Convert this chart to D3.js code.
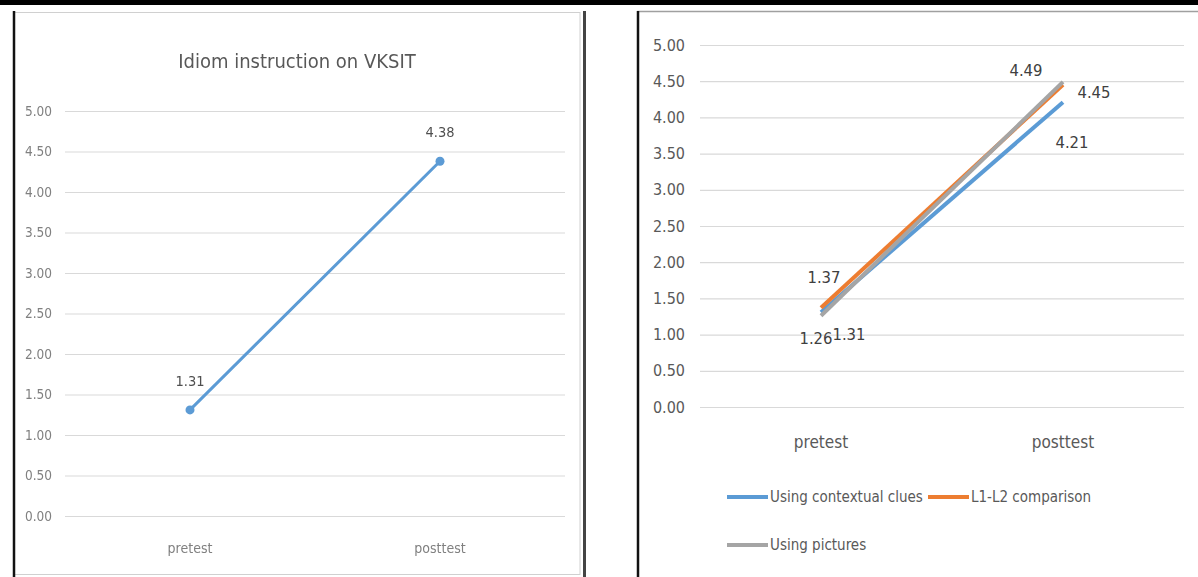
<!DOCTYPE html>
<html>
<head>
<meta charset="utf-8">
<script src="https://cdn.jsdelivr.net/npm/d3@7"></script>
<style>
  html, body { margin: 0; padding: 0; background: #fff; }
  svg { display: block; }
  text { font-family: "DejaVu Sans Condensed", "DejaVu Sans", sans-serif; font-stretch: condensed; }
</style>
</head>
<body>
<svg id="chart" width="1198" height="577"></svg>
<script>
// Categories and tick values shared by both charts
const categories = ["pretest", "posttest"];
const yTicks = [0, 0.5, 1, 1.5, 2, 2.5, 3, 3.5, 4, 4.5, 5];

// Left chart: overall idiom instruction scores
const overallTitle = "Idiom instruction on VKSIT";
const overallValues = [1.31, 4.38];

// Right chart: scores by instruction technique
const seriesNames = ["Using contextual clues", "L1-L2 comparison", "Using pictures"];
const contextualValues = [1.31, 4.21];
const comparisonValues = [1.37, 4.45];
const picturesValues = [1.26, 4.49];

const seriesColors = ["#5B9BD5", "#ED7D31", "#A5A5A5"];
// label offsets (dx, dy) for each series at each category
const labelOffsets = [
  [[28, 22], [9, 40]],
  [[3, -31], [31, 7]],
  [[-5, 22], [-37, -12]]
];

const svg = d3.select("#chart");
const fmt = d3.format(".2f");
const condensed = '"DejaVu Sans Condensed", "DejaVu Sans", sans-serif';

const defs = svg.append("defs");
defs.append("filter").attr("id", "soft").attr("x", "-5%").attr("y", "-5%").attr("width", "110%").attr("height", "110%")
  .append("feGaussianBlur").attr("stdDeviation", 0.7);

// ---------- Left panel ----------
const left = svg.append("g");

// frame
left.append("rect").attr("x", 14).attr("y", 12.5).attr("width", 566).attr("height", 562)
  .attr("fill", "#fff").attr("stroke", "#d0d0d0").attr("stroke-width", 1);
left.append("line").attr("x1", 14).attr("x2", 14).attr("y1", 11).attr("y2", 577).attr("stroke", "#111").attr("stroke-width", 2.5);
left.append("line").attr("x1", 584.5).attr("x2", 584.5).attr("y1", 11).attr("y2", 577).attr("stroke", "#444").attr("stroke-width", 3);

const lp = left.append("g").attr("filter", "url(#soft)");
const xL = d3.scalePoint().domain(categories).range([65, 565]).padding(0.5);
const yL = d3.scaleLinear().domain([0, 5]).range([516, 111]);

lp.append("text").attr("x", 297).attr("y", 68).attr("text-anchor", "middle")
  .attr("font-size", 20).attr("fill", "#595959").text(overallTitle);

const axL = lp.append("g").attr("transform", "translate(65,0)")
  .call(d3.axisLeft(yL).tickValues(yTicks).tickFormat(fmt).tickSize(-500).tickPadding(13));
axL.select(".domain").remove();
axL.selectAll(".tick line").attr("stroke", "#d9d9d9").attr("stroke-width", 1.2);
axL.selectAll(".tick text").attr("fill", "#808080").attr("font-size", 13.5)
  .style("font-family", condensed);

lp.selectAll(".cat").data(categories).join("text")
  .attr("x", d => xL(d)).attr("y", 553).attr("text-anchor", "middle")
  .attr("font-size", 14).attr("fill", "#808080").text(d => d);

lp.append("path").datum(overallValues)
  .attr("d", d3.line().x((d, i) => xL(categories[i])).y(d => yL(d)))
  .attr("fill", "none").attr("stroke", "#5B9BD5").attr("stroke-width", 3);
lp.selectAll(".pt").data(overallValues).join("circle")
  .attr("cx", (d, i) => xL(categories[i])).attr("cy", d => yL(d)).attr("r", 4.5)
  .attr("fill", "#5B9BD5");
lp.selectAll(".lbl").data(overallValues).join("text")
  .attr("x", (d, i) => xL(categories[i])).attr("y", d => yL(d) - 29)
  .attr("dy", "0.35em").attr("text-anchor", "middle").attr("font-size", 14.5).attr("fill", "#505050")
  .text(d => fmt(d));

// ---------- Right panel ----------
const right = svg.append("g");
right.append("rect").attr("x", 638).attr("y", 11.5).attr("width", 600).attr("height", 600)
  .attr("fill", "#fff").attr("stroke", "#a0a0a0").attr("stroke-width", 1.5);
right.append("line").attr("x1", 638).attr("x2", 638).attr("y1", 11).attr("y2", 577).attr("stroke", "#111").attr("stroke-width", 2.5);

const xR = d3.scalePoint().domain(categories).range([700, 1184]).padding(0.5);
const yR = d3.scaleLinear().domain([0, 5]).range([407, 45]);

const axR = right.append("g").attr("transform", "translate(700,0)")
  .call(d3.axisLeft(yR).tickValues(yTicks).tickFormat(fmt).tickSize(-484).tickPadding(15));
axR.select(".domain").remove();
axR.selectAll(".tick line").attr("stroke", "#d9d9d9").attr("stroke-width", 1.2);
axR.selectAll(".tick text").attr("fill", "#595959").attr("font-size", 16)
  .style("font-family", condensed);

right.selectAll(".cat").data(categories).join("text")
  .attr("x", d => xR(d)).attr("y", 448).attr("text-anchor", "middle")
  .attr("font-size", 17).attr("fill", "#595959").text(d => d);

const seriesValues = [contextualValues, comparisonValues, picturesValues];
const lineR = d3.line().x((d, i) => xR(categories[i])).y(d => yR(d));
right.selectAll(".series").data(seriesValues).join("path")
  .attr("d", d => lineR(d)).attr("fill", "none")
  .attr("stroke", (d, i) => seriesColors[i]).attr("stroke-width", 4);

seriesValues.forEach((vals, s) => {
  right.selectAll(".lbl" + s).data(vals).join("text")
    .attr("x", (d, i) => xR(categories[i]) + labelOffsets[s][i][0])
    .attr("y", (d, i) => yR(d) + labelOffsets[s][i][1])
    .attr("dy", "0.35em").attr("text-anchor", "middle")
    .attr("font-size", 16.5).attr("fill", "#404040").text(d => fmt(d));
});

// Rule across the top of the page
svg.append("rect").attr("x", 0).attr("y", 0).attr("width", 1198).attr("height", 5).attr("fill", "#000");

// legend
const legendPos = [[727, 497], [928, 497], [727, 545]];
const legend = right.selectAll(".leg").data(seriesNames).join("g")
  .attr("transform", (d, i) => `translate(${legendPos[i][0]},${legendPos[i][1]})`);
legend.append("line").attr("x1", 0).attr("x2", 41).attr("y1", 0).attr("y2", 0)
  .attr("stroke", (d, i) => seriesColors[i]).attr("stroke-width", 4);
legend.append("text").attr("x", 43).attr("dy", "0.35em")
  .attr("font-size", 15).attr("fill", "#595959").text(d => d);
</script>
</body>
</html>
